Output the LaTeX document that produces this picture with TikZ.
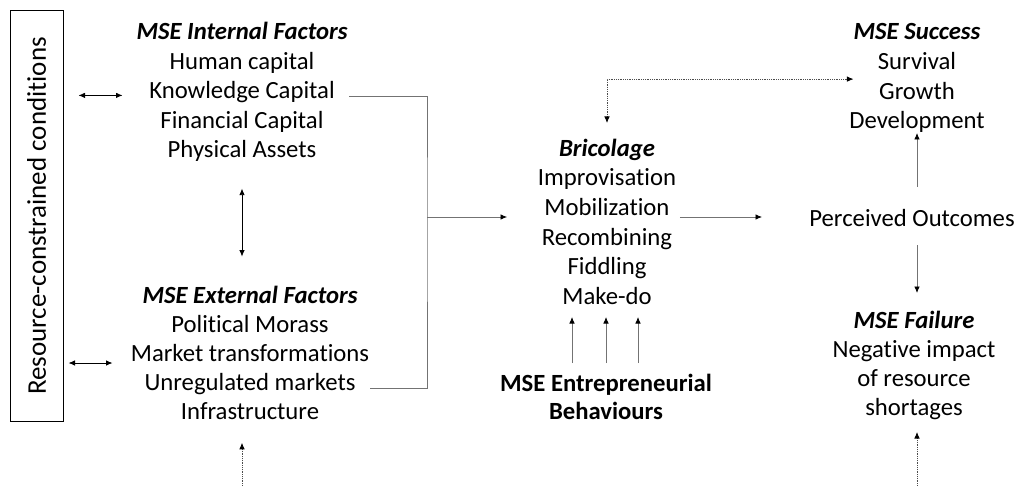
\documentclass[tikz,border=0pt]{standalone}
\usepackage{fontspec}
\setmainfont[Ligatures=NoCommon]{Carlito}
\usetikzlibrary{arrows.meta}

\begin{document}
\begin{tikzpicture}[x=1pt,y=-1pt,>={Latex[length=6.5pt,width=5.5pt,color=black]},
                    line width=0.8pt,
                    every node/.style={font=\fontsize{24.7}{29.5}\selectfont,inner sep=0pt,anchor=base}]
  \tikzstyle{head}=[font=\fontsize{24.7}{29.5}\selectfont\bfseries\itshape]
  \tikzstyle{link}=[draw=black!55]
  \tikzstyle{loose}=[densely dotted,draw=black!70]
  \useasboundingbox (0,0) rectangle (1016,486);

  % left box
  \node[draw,line width=1pt,rotate=90,anchor=center,minimum width=411,minimum height=53,
        font=\fontsize{27}{32}\selectfont]
        (rc) at (36.5,216) {Resource-constrained conditions};

  % factors
  \node[head] (int) at (242,40) {MSE Internal Factors};
  \foreach \t [count=\i] in {Human capital,Knowledge Capital,Financial Capital,Physical Assets}
    \node (int\i) at (242,40+29.4*\i) {\t};
  \node[head] (ext) at (250,303) {MSE External Factors};
  \foreach \t [count=\i] in {Political Morass,Market transformations,Unregulated markets,Infrastructure}
    \node (ext\i) at (250,303+29.2*\i) {\t};

  % bricolage
  \node[head] (bri) at (607,156.5) {Bricolage};
  \foreach \t [count=\i] in {Improvisation,Mobilization,Recombining,Fiddling,Make-do}
    \node (bri\i) at (607,156.5+29.5*\i) {\t};
  \node[font=\fontsize{24.7}{29.5}\selectfont\bfseries] (ent) at (606,391) {MSE Entrepreneurial};
  \node[font=\fontsize{24.7}{29.5}\selectfont\bfseries] (ent1) at (606,419) {Behaviours};

  % outcomes
  \node[head] (suc) at (917,40) {MSE Success};
  \foreach \t [count=\i] in {Survival,Growth,Development}
    \node (suc\i) at (917,40+29.6*\i) {\t};
  \node (po) at (912,226) {Perceived Outcomes};
  \node[head] (fai) at (914,328) {MSE Failure};
  \foreach \t [count=\i] in {Negative impact,of resource,shortages}
    \node (fai\i) at (914,328+29*\i) {\t};

  \coordinate (join) at (427,217);

  \draw[<->] ([xshift=15pt,yshift=1pt]rc.south |- int2.mid) -- ++(44,0);
  \draw[<->] ([xshift=5pt,yshift=-4pt]rc.south |- ext2.mid) -- ++(44,0);
  \draw[<->] ([yshift=-31pt]int4.base) -- ++(0,68);
  \draw[<-,loose] ([yshift=-23pt]int4.base |- ext4.base) -- ++(0,49);

  \draw[link] ([xshift=14pt]int2.mid east) -| (join) |- ([xshift=14pt]ext3.mid east);
  \draw[link,->] (join) -- (join -| bri2.west) [shorten >=37pt];
  \draw[link,->] ([xshift=10pt]bri2.east |- join) -- ([xshift=-47pt]po.west |- join);
  \draw[<->,loose] ([yshift=33.5pt]bri.base) |- ([xshift=-24pt,yshift=-9.5pt]suc1.base west);
  \foreach \dx in {-34,0,32}
    \draw[link,->] ([xshift=\dx pt,yshift=28pt]ent.base) -- ++(0,-46);

  \draw[link,->] ([yshift=39pt]suc.base |- po.base) -- ++(0,-54);
  \draw[link,->] ([yshift=-19pt]suc.base |- po.base) -- ++(0,48);
  \draw[<-,loose] ([yshift=-17pt]suc.base |- fai3.base) -- ++(0,58);
\end{tikzpicture}
\end{document}
